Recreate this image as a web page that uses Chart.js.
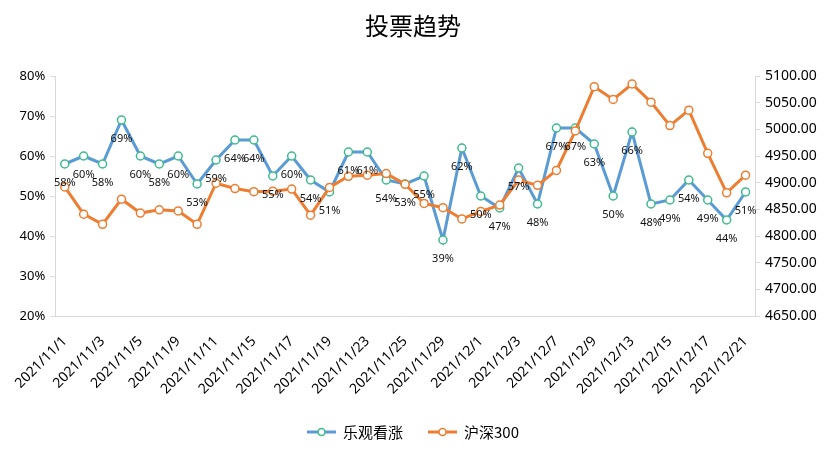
<!DOCTYPE html>
<html>
<head>
<meta charset="utf-8">
<script src="https://cdn.jsdelivr.net/npm/chart.js@4.4.0/dist/chart.umd.min.js"></script>
<style>
html,body{margin:0;padding:0;background:#fff;}
#wrap{width:827px;height:473px;position:relative;}
</style>
</head>
<body>
<div id="wrap"><canvas id="c" width="827" height="473"></canvas></div>
<script>
// ---- data ----
const categories = [
  '2021/11/1','2021/11/2','2021/11/3','2021/11/4','2021/11/5',
  '2021/11/8','2021/11/9','2021/11/10','2021/11/11','2021/11/12',
  '2021/11/15','2021/11/16','2021/11/17','2021/11/18','2021/11/19',
  '2021/11/22','2021/11/23','2021/11/24','2021/11/25','2021/11/26',
  '2021/11/29','2021/11/30','2021/12/1','2021/12/2','2021/12/3',
  '2021/12/6','2021/12/7','2021/12/8','2021/12/9','2021/12/10',
  '2021/12/13','2021/12/14','2021/12/15','2021/12/16','2021/12/17',
  '2021/12/20','2021/12/21'
];
const bullishPct = [58,60,58,69,60,58,60,53,59,64,64,55,60,54,51,61,61,54,53,55,39,62,50,47,57,48,67,67,63,50,66,48,49,54,49,44,51];
const hs300 = [4892,4841,4822,4869,4843,4849,4847,4822,4899,4889,4883,4884,4888,4839,4891,4912,4914,4917,4897,4861,4853,4832,4846,4858,4905,4895,4923,4997,5080,5056,5085,5051,5007,5036,4955,4881,4914];
const seriesNames = ['乐观看涨','沪深300'];
const chartTitle = '投票趋势';
const leftMin = 20, leftMax = 80, leftStep = 10;
const rightMin = 4650, rightMax = 5100, rightStep = 50;

// ---- styles ----
const BLUE = '#5B9BD5', ORANGE = '#ED7D31', GREEN = '#3DBB8C';
const FONT = "'Noto Sans','Noto Sans CJK SC',sans-serif";
const CJK = "'Noto Sans CJK SC',sans-serif";

const labelPlugin = {
  id: 'pctLabels',
  afterDatasetsDraw(chart) {
    const ctx = chart.ctx;
    const meta = chart.getDatasetMeta(0);
    ctx.save();
    ctx.font = '11px ' + FONT;
    ctx.fillStyle = '#111';
    ctx.textAlign = 'center';
    ctx.textBaseline = 'middle';
    meta.data.forEach((pt, i) => {
      ctx.fillText(bullishPct[i] + '%', pt.x, pt.y + 19);
    });
    ctx.restore();
  }
};

const titleLegendPlugin = {
  id: 'titleLegend',
  afterDraw(chart) {
    const ctx = chart.ctx;
    ctx.save();
    ctx.fillStyle = '#000';
    ctx.font = '24px ' + CJK;
    ctx.textAlign = 'center';
    ctx.textBaseline = 'middle';
    ctx.fillText(chartTitle, 413, 26);

    const items = [
      {x: 307, name: seriesNames[0], line: BLUE, pt: GREEN},
      {x: 428, name: seriesNames[1], line: ORANGE, pt: ORANGE}
    ];
    const ly = 432;
    items.forEach(it => {
      ctx.strokeStyle = it.line;
      ctx.lineWidth = 3;
      ctx.lineCap = 'butt';
      ctx.beginPath();
      ctx.moveTo(it.x, ly);
      ctx.lineTo(it.x + 29, ly);
      ctx.stroke();
      ctx.beginPath();
      ctx.arc(it.x + 14.5, ly, 3.5, 0, Math.PI * 2);
      ctx.fillStyle = '#fff';
      ctx.fill();
      ctx.lineWidth = 1.5;
      ctx.strokeStyle = it.pt;
      ctx.stroke();
      ctx.fillStyle = '#000';
      ctx.font = '15px ' + CJK;
      ctx.textAlign = 'left';
      ctx.textBaseline = 'middle';
      ctx.fillText(it.name, it.x + 36, ly);
    });
    ctx.restore();
  }
};

const ctx = document.getElementById('c').getContext('2d');
new Chart(ctx, {
  type: 'line',
  data: {
    labels: categories,
    datasets: [
      {
        label: seriesNames[0], data: bullishPct, yAxisID: 'y',
        borderColor: BLUE, borderWidth: 3, tension: 0,
        pointRadius: 4, pointBorderWidth: 1.5,
        pointBackgroundColor: '#fff', pointBorderColor: GREEN,
        order: 1
      },
      {
        label: seriesNames[1], data: hs300, yAxisID: 'y1',
        borderColor: ORANGE, borderWidth: 3, tension: 0,
        pointRadius: 4, pointBorderWidth: 1.5,
        pointBackgroundColor: '#fff', pointBorderColor: ORANGE,
        order: 0
      }
    ]
  },
  options: {
    responsive: false,
    animation: false,
    devicePixelRatio: 1,
    layout: { padding: { top: 76, bottom: 57, left: 0, right: 0 } },
    plugins: {
      legend: { display: false },
      title: { display: false },
      tooltip: { enabled: false }
    },
    scales: {
      x: {
        offset: true,
        grid: { display: false, drawTicks: false },
        border: { display: true, color: '#d9d9d9', width: 1 },
        ticks: {
          autoSkip: false, maxRotation: 45, minRotation: 45,
          padding: 17, color: '#000',
          font: { family: FONT, size: 14 },
          callback: (v, i) => (i % 2 === 0 ? categories[i] : '')
        },
        afterFit: s => { s.height = 100; }
      },
      y: {
        position: 'left', min: leftMin, max: leftMax,
        grid: { drawOnChartArea: false, drawTicks: true, tickLength: 5, color: '#d9d9d9' },
        border: { display: true, color: '#d9d9d9', width: 1 },
        ticks: {
          stepSize: leftStep, padding: 5, color: '#000',
          font: { family: FONT, size: 13 },
          callback: v => v + '%'
        },
        afterFit: s => { s.width = 55; }
      },
      y1: {
        position: 'right', min: rightMin, max: rightMax,
        grid: { drawOnChartArea: false, drawTicks: true, tickLength: 5, color: '#d9d9d9' },
        border: { display: true, color: '#d9d9d9', width: 1 },
        ticks: {
          stepSize: rightStep, padding: 5, color: '#000',
          font: { family: FONT, size: 14 },
          callback: v => Number(v).toFixed(2)
        },
        afterFit: s => { s.width = 72; }
      }
    }
  },
  plugins: [labelPlugin, titleLegendPlugin]
});
</script>
</body>
</html>
